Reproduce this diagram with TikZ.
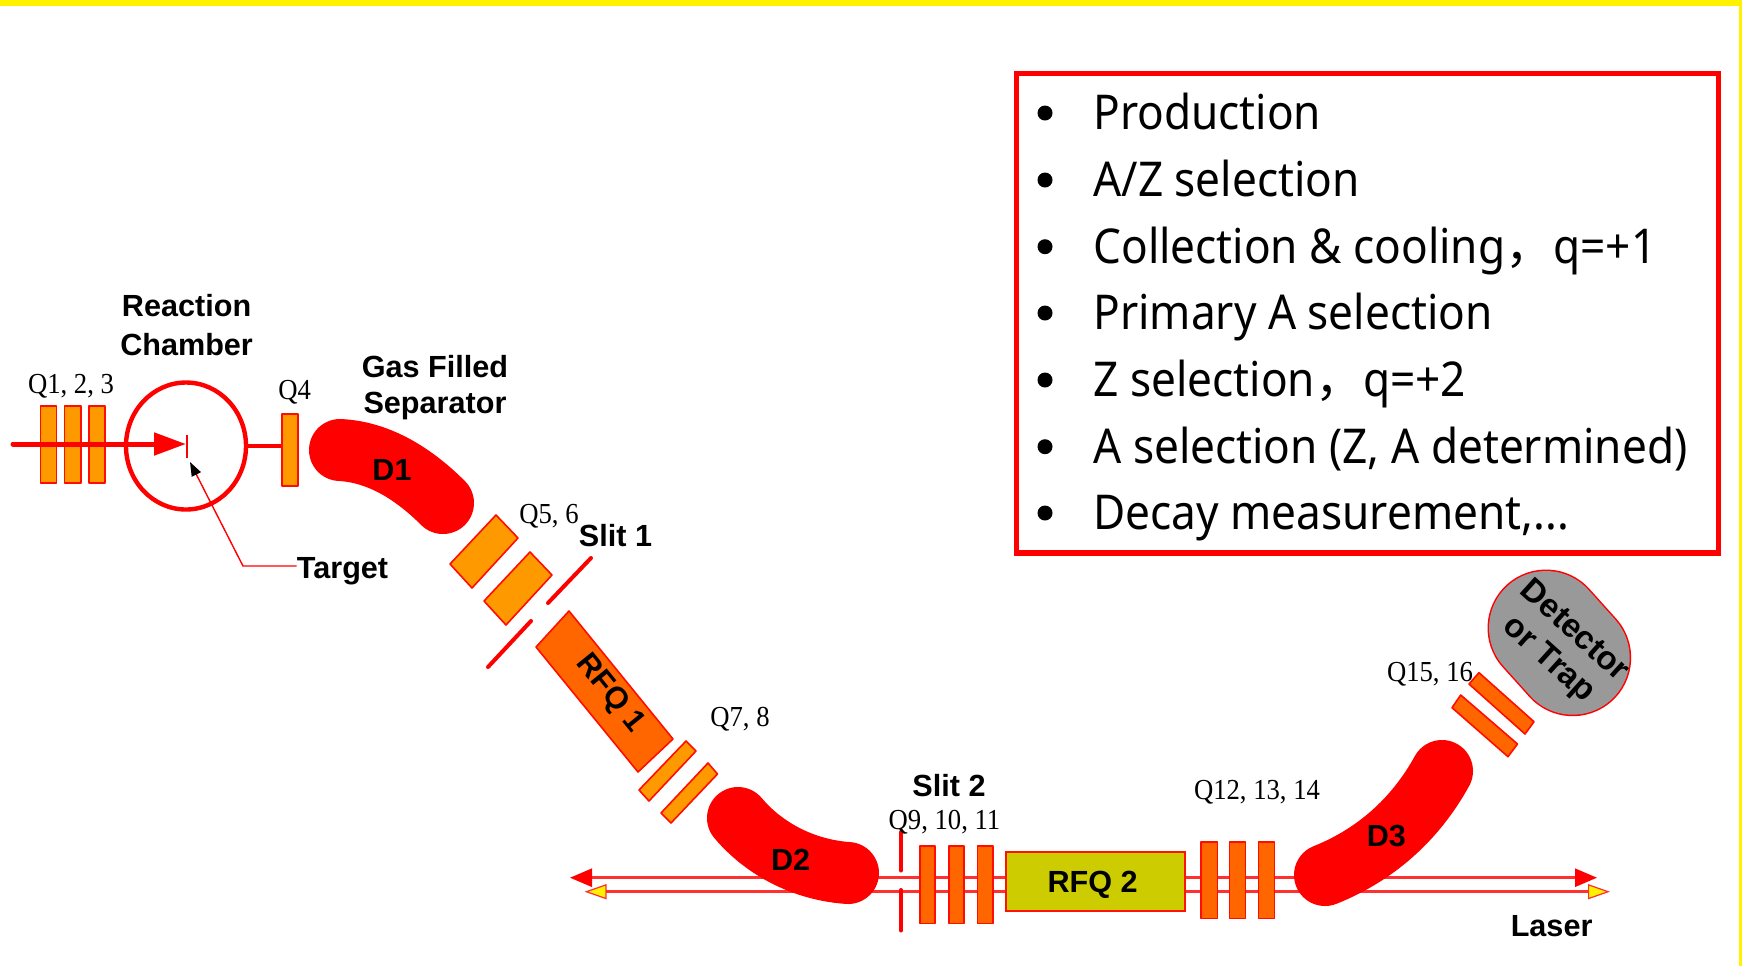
\documentclass[tikz,border=0pt]{standalone}
\usepackage{fontspec}
\setmainfont{Liberation Sans}
\newfontfamily\qfont[FakeStretch=0.92]{Liberation Serif}
\newfontfamily\boxfont[FakeStretch=0.92]{Noto Sans}
\newfontfamily\cjkfont{Noto Sans CJK SC}
\usetikzlibrary{arrows.meta,shapes.geometric}
\definecolor{qlight}{HTML}{FF9900}
\definecolor{qdark}{HTML}{FF6600}
\definecolor{rfqtwo}{HTML}{CCCC00}
\definecolor{beamred}{HTML}{FF3030}
\tikzset{
  x=0.5pt,y=-0.5pt,
  qlabel/.style={font=\qfont\fontsize{14.5}{16}\selectfont,inner sep=0pt,text=black},
  blabel/.style={font=\bfseries\fontsize{15.3}{17}\selectfont,inner sep=0pt},
  listtext/.style={font=\boxfont\fontsize{24}{28}\selectfont,inner sep=0pt,anchor=base west},
  bulletdot/.style={circle,fill=black,minimum size=7.5pt,inner sep=0pt},
  qbar/.style={draw=red!90!orange,line width=0.8pt,fill=qlight,line join=round},
  qbardark/.style={qbar,fill=qdark},
  qnode/.style={qbar,inner sep=0pt,minimum width=8pt},
  magnet/.style={draw=red,line width=31pt,line cap=round},
  slitbar/.style={draw=red,line width=2pt,line cap=round},
  beam/.style={draw=beamred,line width=1.3pt},
}
\begin{document}
\begin{tikzpicture}
\useasboundingbox (0,0) rectangle (1742,966);
\fill[white] (0,0) rectangle (1742,966);
\fill[yellow] (0,0) rectangle (1742,6);
\fill[yellow] (1739,0) rectangle (1742,966);

% list box
\draw[red,line width=2.8pt] (1016.5,73.5) rectangle (1718.5,553);
\foreach \n/\yy in {a/113,b/180,c/246.7,d/313,e/380,f/446.7,g/513}{
  \node[bulletdot] (dot\n) at (1045,\yy) {};
}
\node[listtext] (la) at (1093,129) {Production};
\node[listtext] (lb) at (1093,196) {A/Z selection};
\node[listtext] (lc) at (1093,263) {Collection \& cooling{\cjkfont，}q=+1};
\node[listtext] (ld) at (1093,329) {Primary A selection};
\node[listtext] (le) at (1093,396) {Z selection{\cjkfont，}q=+2};
\node[listtext] (lf) at (1093,463) {A selection (Z, A determined)};
\node[listtext] (lg) at (1093,529) {Decay measurement,...};

% laser / ion beams
\coordinate (ul) at (570,877.7);
\coordinate (ur) at (1597,877.7);
\coordinate (ll) at (584.5,891.7);
\coordinate (lr) at (1610,891.7);
\draw[beam,{Triangle[length=11pt,width=9pt,red]}-{Triangle[length=11pt,width=9pt,red]}] (ul) -- (ur);
\draw[beam,{Triangle[length=11pt,width=7.5pt,fill=yellow,line width=0.6pt]}-{Triangle[length=11pt,width=7.5pt,fill=yellow,line width=0.6pt]}] (ll) -- (lr);

% entrance section
\draw[qbar] (40.3,405.7) rectangle (56.5,482.7);
\draw[qbar] (64.5,405.7) rectangle (81,482.7);
\draw[qbar] (89,405.7) rectangle (105,482.7);
\node[ellipse,draw=red,line width=2.2pt,minimum width=60pt,minimum height=63.5pt,inner sep=0pt] (chamber) at (186,446) {};
\node[qnode,minimum height=36pt] (qfour) at (290,450) {};
\draw[red,line width=2pt] (chamber.east) -- (qfour.west |- chamber.east);
\coordinate (beamstart) at (13,444);
\coordinate (targetpt) at (186,444);
\draw[red,line width=2.5pt,line cap=round,-{Triangle[length=16pt,width=11pt,red]}] (beamstart) -- (targetpt);
\draw[red,line width=1pt] (186.6,435) -- (186.6,458);
\node[blabel,anchor=west] (target) at (296.5,571) {Target};
\coordinate (tbend) at (243,566);
\coordinate (ttip) at (190,462);
\draw[red,line width=0.7pt,-{Triangle[length=7pt,width=5pt,black]}] (tbend -| target.west) -- (tbend) -- (ttip);

% labels left
\node[blabel] (react) at (186.6,306) {Reaction};
\node[blabel] (chamb) at (186.6,344.5) {Chamber};
\node[blabel] (gas) at (435,367) {Gas Filled};
\node[blabel] (sep) at (435,406) {Separator};
\node[qlabel] (qa) at (71,386) {Q1, 2, 3};
\node[qlabel] (qb) at (294.6,392) {Q4};
\node[qlabel] (qc) at (549,516) {Q5, 6};
\node[blabel] (sa) at (615.5,536) {Slit 1};

% D1
\draw[magnet] (340,450) .. controls (380,452) and (415,475) .. (443,503);
\node[blabel] (done) at (392,470) {D1};

% Q5,6, slit 1
\draw[qbar] (496,515) -- (518,538) -- (472,588) -- (450,564) -- cycle;
\draw[qbar] (530,552) -- (552,575) -- (506,625) -- (484,601) -- cycle;
\draw[slitbar] (591,558) -- (548,603);
\draw[slitbar] (531,621) -- (488,667);

% RFQ1
\draw[qbardark] (569,611) -- (673,739) -- (638,772) -- (536,647) -- cycle;
\node[blabel,rotate=-51] (rfqa) at (610,694) {RFQ 1};

% Q7,8
\draw[qbar] (686,741) -- (696,751) -- (649,801) -- (639,790) -- cycle;
\draw[qbar] (708,763) -- (717.5,774) -- (671,823) -- (661,813) -- cycle;
\node[qlabel] (qd) at (740,719) {Q7, 8};

% D2
\draw[magnet] (738,818) .. controls (765,850) and (805,870) .. (848,873);
\node[blabel] (dtwo) at (790.6,860) {D2};

% slit 2, Q9-11, RFQ2
\draw[slitbar] (901,832) -- (901,870.5);
\draw[slitbar] (901,890) -- (901,930.5);
\draw[qbardark] (920,845.7) rectangle (934.7,923.3);
\draw[qbardark] (949,845.7) rectangle (964,923.3);
\draw[qbardark] (977.5,845.7) rectangle (992.7,923.3);
\node[blabel] (sb) at (949,786) {Slit 2};
\node[qlabel] (qe) at (944.5,822) {Q9, 10, 11};
\draw[draw=red!85!orange,line width=1pt,fill=rfqtwo] (1005.7,852) rectangle (1184.5,911);
\node[blabel] (rfqb) at (1092.6,885) {RFQ 2};

% Q12-14
\draw[qbardark] (1200.8,841.7) rectangle (1217.5,918.3);
\draw[qbardark] (1229.4,841.7) rectangle (1245.4,918.3);
\draw[qbardark] (1258.4,841.7) rectangle (1274.3,918.3);
\node[qlabel] (qf) at (1257,792) {Q12, 13, 14};

% D3
\draw[magnet] (1325,875) .. controls (1375,855) and (1415,820) .. (1442,771);
\node[blabel] (dthree) at (1386.4,836) {D3};

% Q15,16
\draw[qbardark] (1479,672.7) -- (1534,721.7) -- (1525,734) -- (1469,684) -- cycle;
\draw[qbardark] (1460.7,695) -- (1517.5,744) -- (1508,756.7) -- (1452,707.7) -- cycle;
\node[qlabel] (qg) at (1430,674) {Q15, 16};

% detector
\draw[red,line width=58.5pt,line cap=round] (1546,628) -- (1572.7,657.7);
\draw[black!40,line width=57pt,line cap=round] (1546,628) -- (1572.7,657.7);
\node[blabel,font=\bfseries\fontsize{16.5}{19}\selectfont,rotate=-42,align=center] (det) at (1561,646) {Detector\\or Trap};

\node[blabel] (laser) at (1551.6,926.5) {Laser};
\end{tikzpicture}
\end{document}
